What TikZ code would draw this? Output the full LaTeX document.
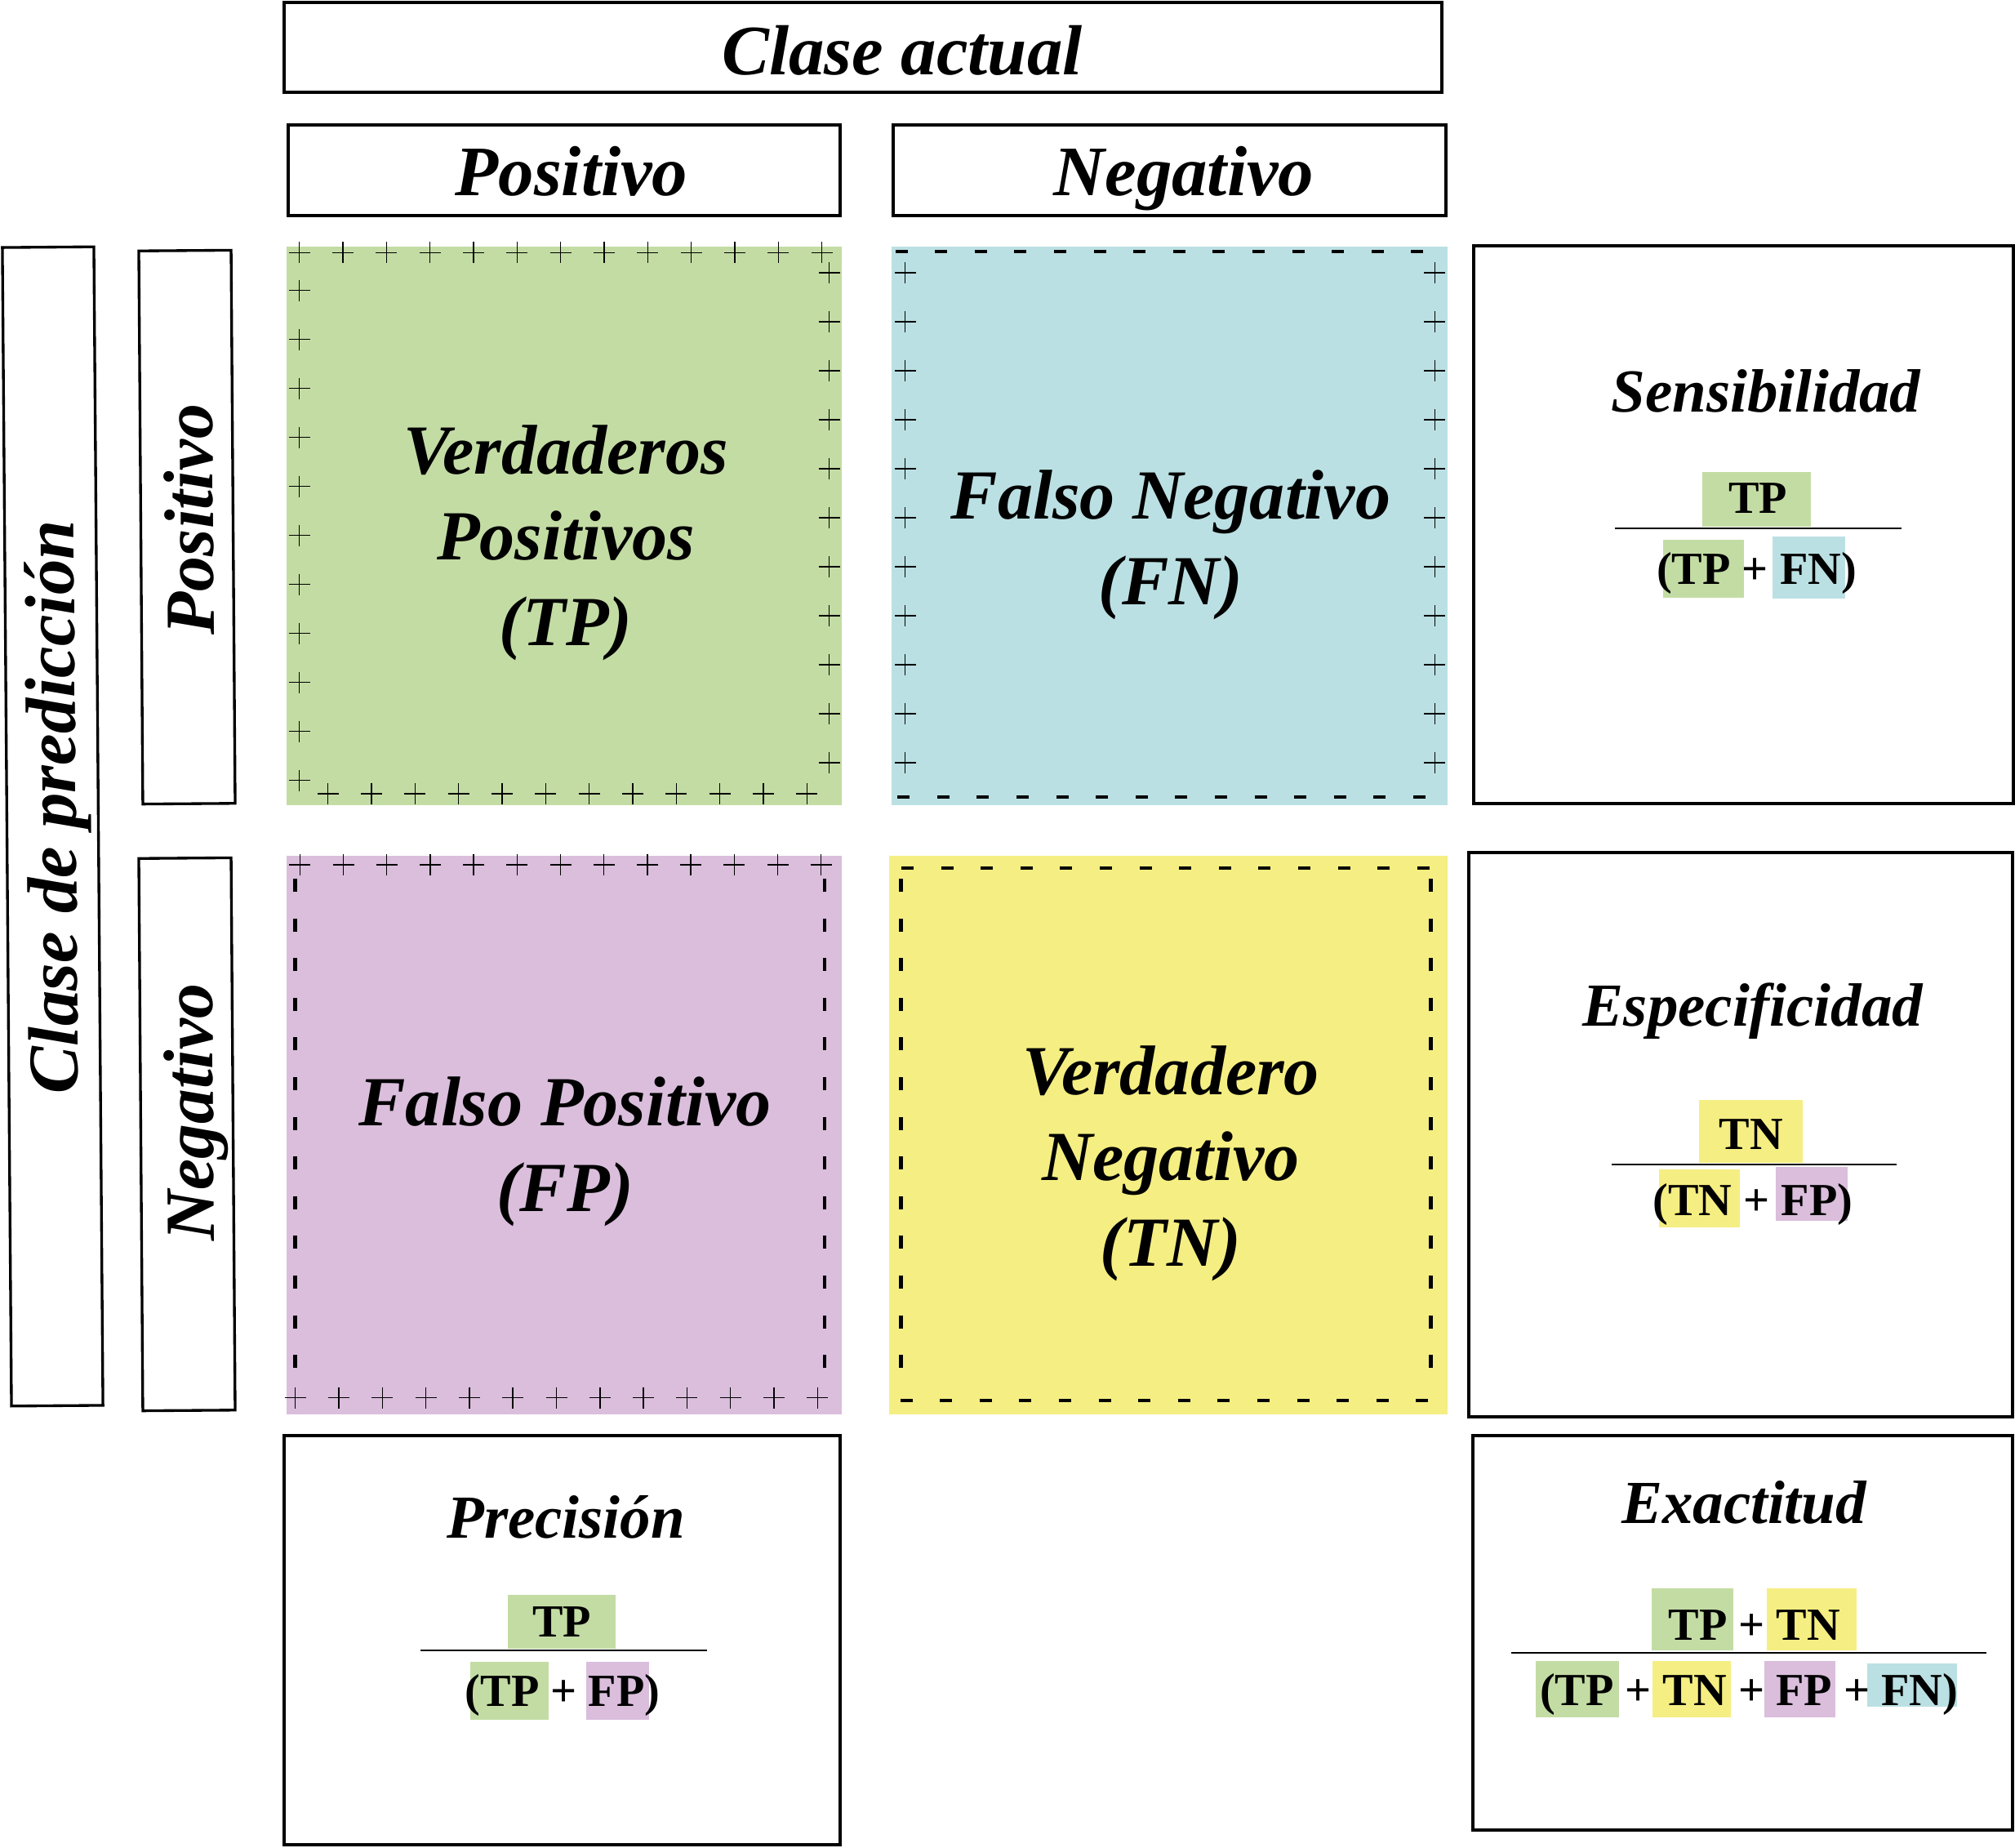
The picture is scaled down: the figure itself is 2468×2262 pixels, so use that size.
\documentclass[tikz,border=0pt]{standalone}
\usepackage{fontspec}
\setmainfont{Liberation Serif}
\usetikzlibrary{fit}
\definecolor{cgreen}{RGB}{195,220,164}
\definecolor{cblue}{RGB}{187,224,227}
\definecolor{cpurple}{RGB}{218,190,220}
\definecolor{cyellow}{RGB}{245,238,130}
\begin{document}
\begin{tikzpicture}[x=0.01cm, y=-0.01cm,
  frame/.style={draw, line width=0.95pt, inner sep=0pt},
  cellbox/.style={inner sep=0pt},
  hdr/.style={inner sep=0pt, anchor=base, font=\fontsize{24.7}{30}\selectfont\bfseries\itshape},
  celltxt/.style={inner sep=0pt, align=center, font=\fontsize{24.5}{29.8}\selectfont\bfseries\itshape},
  vtxt/.style={inner sep=0pt, anchor=base, rotate=90.45, font=\fontsize{24.5}{30}\selectfont\bfseries\itshape},
  ttl/.style={inner sep=0pt, anchor=base, font=\fontsize{21.3}{26}\selectfont\bfseries\itshape},
  frm/.style={inner sep=0pt, anchor=base, font=\fontsize{16}{19}\selectfont\bfseries},
  fracline/.style={line width=0.8pt},
  plusmark/.pic={\draw[line width=0.42pt] (-13,0)--(13,0) (0,-13)--(0,13);},
  hdash/.pic={\draw[line width=1.15pt] (-7.5,0)--(7.5,0);},
  vdash/.pic={\draw[line width=1.4pt] (0,-8)--(0,8);}
]
\useasboundingbox (0,0) rectangle (2468,2262);

% ---------- header boxes ----------
\node[frame, fit={(348,3) (1766,113)}] (actual) {};
\node[hdr] (actualtxt) at (1105,91) {Clase actual};
\node[frame, fit={(353,153) (1029,264)}] (colpos) {};
\node[hdr] (colpostxt) at (700,239) {Positivo};
\node[frame, fit={(1094,153) (1771,264)}] (colneg) {};
\node[hdr] (colnegtxt) at (1450,239) {Negativo};

% ---------- left boxes ----------
\node[frame, rotate=0.45, minimum width=1.12cm, minimum height=14.18cm] (predbox) at (64.5,1012) {};
\node[vtxt, font=\fontsize{24.8}{30}\selectfont\bfseries\itshape] (predtxt) at (93,988) {Clase de predicción};
\node[frame, rotate=0.42, minimum width=1.13cm, minimum height=6.77cm] (rowpos) at (229,645.5) {};
\node[vtxt] (rowpostxt) at (261,636) {Positivo};
\node[frame, rotate=0.42, minimum width=1.13cm, minimum height=6.76cm] (rowneg) at (229,1389) {};
\node[vtxt] (rownegtxt) at (261,1362) {Negativo};

% ---------- cells ----------
\node[cellbox, fill=cgreen, fit={(351,302) (1031,986)}] (tpcell) {};
\node[cellbox, fill=cblue, fit={(1092,302) (1773,986)}] (fncell) {};
\node[cellbox, fill=cpurple, fit={(351,1048) (1031,1732)}] (fpcell) {};
\node[cellbox, fill=cyellow, fit={(1089,1048) (1773,1732)}] (tncell) {};

% TP borders: pluses
\foreach \k in {0,...,12} \pic at ({366.7+53.33*\k},309.3) {plusmark};
\foreach \k in {0,...,10} \pic at (366.7,{355.7+60*\k}) {plusmark};
\foreach \k in {0,...,10} \pic at (1015.7,{334+60*\k}) {plusmark};
\foreach \k in {0,...,11} \pic at ({401.7+53.33*\k},972) {plusmark};

% FN borders
\foreach \k in {0,...,13} \pic at ({1104+48.6*\k},308) {hdash};
\foreach \k in {0,...,10} \pic at (1108.7,{334+60*\k}) {plusmark};
\foreach \k in {0,...,10} \pic at (1757.3,{334+60*\k}) {plusmark};
\foreach \k in {0,...,13} \pic at ({1106.7+48.6*\k},976) {hdash};

% FP borders
\foreach \k in {0,...,12} \pic at ({367.3+53.2*\k},1059) {plusmark};
\foreach \k in {0,...,12} \pic at (361.7,{1084+48.6*\k}) {vdash};
\foreach \k in {0,...,12} \pic at (1010,{1084+48.6*\k}) {vdash};
\foreach \k in {0,...,12} \pic at ({361.7+53.3*\k},1711.7) {plusmark};

% TN borders
\foreach \k in {0,...,13} \pic at ({1111.5+48.6*\k},1062.7) {hdash};
\foreach \k in {0,...,12} \pic at (1103.3,{1084+48.6*\k}) {vdash};
\foreach \k in {0,...,12} \pic at (1752.7,{1084+48.6*\k}) {vdash};
\foreach \k in {0,...,13} \pic at ({1110+48.6*\k},1715) {hdash};

% cell texts
\node[celltxt] (tptxt) at (693,665) {Verdaderos\\Positivos\\(TP)};
\node[celltxt] (fntxt) at (1434,667) {Falso Negativo\\(FN)};
\node[celltxt] (fptxt) at (692,1410) {Falso Positivo\\(FP)};
\node[celltxt] (tntxt) at (1434,1425) {Verdadero\\Negativo\\(TN)};

% ---------- metric boxes ----------
\node[frame, fit={(1805,301) (2466,984)}] (sensbox) {};
\node[frame, fit={(1799,1044) (2465,1735)}] (espbox) {};
\node[frame, fit={(1804,1758) (2465,2241)}] (exabox) {};
\node[frame, fit={(348,1758) (1029,2259)}] (prebox) {};

% Sensibilidad
\node[ttl] (senstitle) at (2163,504) {Sensibilidad};
\fill[cgreen] (2085,578) rectangle (2218,645);
\fill[cgreen] (2037,661) rectangle (2136,732);
\fill[cblue] (2171,657) rectangle (2260,733);
\draw[fracline] (1978,647) -- (2329,647);
\node[frm] (sensnum) at (2153,628) {TP};
\node[frm] (sensden) at (2151.5,715) {(TP + FN)};

% Especificidad
\node[ttl] (esptitle) at (2147,1256) {Especificidad};
\fill[cyellow] (2081,1347) rectangle (2208,1424);
\fill[cyellow] (2032,1432) rectangle (2131,1503);
\fill[cpurple] (2175,1429) rectangle (2263,1495);
\draw[fracline] (1974,1426) -- (2323,1426);
\node[frm] (espnum) at (2145,1407) {TN};
\node[frm] (espden) at (2147,1488) {(TN + FP)};

% Precision
\node[ttl] (pretitle) at (693,1883) {Precisión};
\fill[cgreen] (622,1953) rectangle (754,2019);
\fill[cgreen] (576,2035) rectangle (672,2106);
\fill[cpurple] (718,2035) rectangle (795,2106);
\draw[fracline] (515,2021) -- (866,2021);
\node[frm] (prenum) at (688,2004) {TP};
\node[frm] (preden) at (689,2089) {(TP + FP)};

% Exactitud
\node[ttl] (exatitle) at (2136,1865) {Exactitud};
\fill[cgreen] (2023,1945) rectangle (2123,2021);
\fill[cyellow] (2164,1945) rectangle (2274,2021);
\fill[cgreen] (1881,2034) rectangle (1983,2103);
\fill[cyellow] (2024,2034) rectangle (2120,2103);
\fill[cpurple] (2161,2034) rectangle (2248,2103);
\fill[cblue] (2287,2037) rectangle (2397,2090);
\draw[fracline] (1851,2024) -- (2433,2024);
\node[frm] (exanum) at (2149,2008) {TP + TN};
\node[frm] (exaden) at (2142,2088) {(TP + TN + FP + FN)};
\end{tikzpicture}
\end{document}
